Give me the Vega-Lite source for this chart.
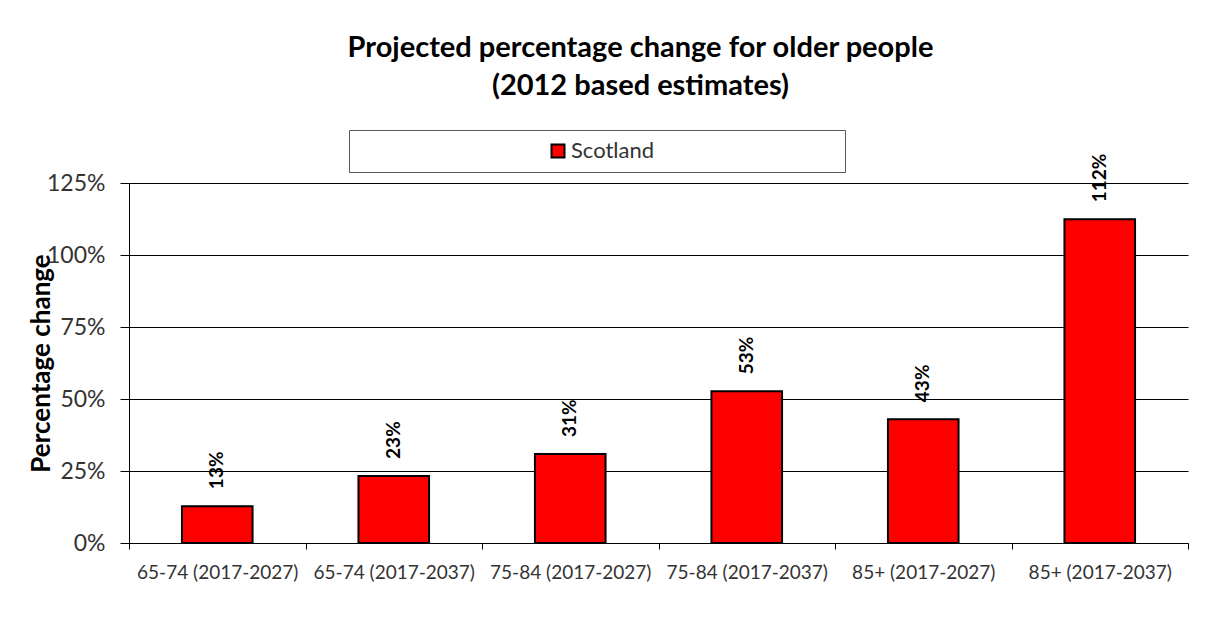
{
  "$schema": "https://vega.github.io/schema/vega-lite/v6.json",
  "width": 1059,
  "height": 360,
  "autosize": {"type": "none"},
  "padding": {"left": 129, "top": 183, "right": 32, "bottom": 92},
  "background": "white",
  "title": {
    "text": ["Projected percentage change for older people", "(2012 based estimates)"],
    "font": "Lato",
    "fontSize": 29,
    "fontWeight": "bold",
    "color": "#000000",
    "anchor": "middle",
    "frame": "group",
    "dx": -18,
    "lineHeight": 38,
    "offset": 29
  },
  "data": {
    "values": [
      {"group": "65-74 (2017-2027)", "series": "Scotland", "change": 0.128},
      {"group": "65-74 (2017-2037)", "series": "Scotland", "change": 0.233},
      {"group": "75-84 (2017-2027)", "series": "Scotland", "change": 0.309},
      {"group": "75-84 (2017-2037)", "series": "Scotland", "change": 0.527},
      {"group": "85+ (2017-2027)", "series": "Scotland", "change": 0.43},
      {"group": "85+ (2017-2037)", "series": "Scotland", "change": 1.124}
    ]
  },
  "encoding": {
    "x": {
      "field": "group",
      "type": "nominal",
      "sort": null,
      "scale": {"paddingInner": 0, "paddingOuter": 0},
      "axis": {
        "title": null,
        "labelAngle": 0,
        "tickBand": "extent",
        "tickSize": 6,
        "tickColor": "#000000",
        "domainColor": "#000000",
        "labelPadding": 14,
        "labelFont": "Lato",
        "labelFontSize": 19,
        "labelColor": "#333333",
        "grid": false
      }
    },
    "y": {
      "field": "change",
      "type": "quantitative",
      "scale": {"domain": [0, 1.25]},
      "axis": {
        "title": "Percentage change",
        "titleFont": "Lato",
        "titleFontSize": 26,
        "titleFontWeight": "bold",
        "titleColor": "#000000",
        "titlePadding": -8,
        "format": ".0%",
        "values": [0, 0.25, 0.5, 0.75, 1, 1.25],
        "tickSize": 9,
        "tickColor": "#000000",
        "domainColor": "#000000",
        "gridColor": "#000000",
        "gridOpacity": 1,
        "labelFont": "Lato",
        "labelFontSize": 23,
        "labelColor": "#333333",
        "labelPadding": 15
      }
    }
  },
  "layer": [
    {
      "mark": {"type": "bar", "width": {"band": 0.4}, "stroke": "#000000", "strokeWidth": 2},
      "encoding": {
        "color": {
          "field": "series",
          "type": "nominal",
          "scale": {"range": ["#ff0000"]},
          "legend": {
            "orient": "none",
            "legendX": 220,
            "legendY": -53,
            "title": null,
            "padding": 10,
            "strokeColor": "#595959",
            "fillColor": "#ffffff",
            "symbolType": "square",
            "symbolSize": 169,
            "symbolStrokeWidth": 2,
            "symbolStrokeColor": "#000000",
            "symbolOffset": 188,
            "labelOffset": 2,
            "labelFont": "Lato",
            "labelFontSize": 22,
            "labelColor": "#333333",
            "labelLimit": 1000,
            "labelExpr": "datum.label + '\u00a0\u00a0\u00a0\u00a0\u00a0\u00a0\u00a0\u00a0\u00a0\u00a0\u00a0\u00a0\u00a0\u00a0\u00a0\u00a0\u00a0\u00a0\u00a0\u00a0\u00a0\u00a0\u00a0\u00a0\u00a0\u00a0\u00a0\u00a0\u00a0\u00a0\u00a0\u00a0\u200b'"
          }
        }
      }
    },
    {
      "mark": {"type": "text", "angle": 270, "align": "left", "baseline": "middle", "dx": 17, "font": "Lato", "fontWeight": "bold", "fontSize": 19, "color": "#000000"},
      "encoding": {
        "text": {"field": "change", "type": "quantitative", "format": ".0%"}
      }
    }
  ],
  "config": {"view": {"stroke": null}}
}
